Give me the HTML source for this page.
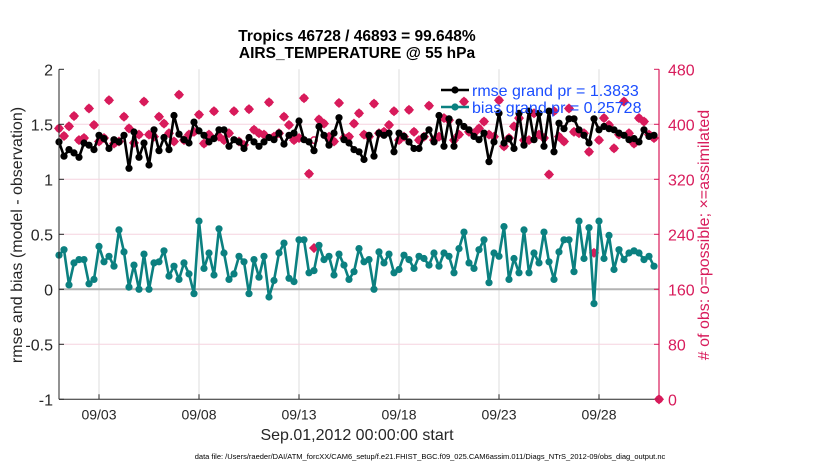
<!DOCTYPE html>
<html><head><meta charset="utf-8"><style>
body{margin:0;background:#fff;}
svg{font-family:"Liberation Sans",sans-serif;}
</style></head><body>
<svg id="chart" width="830" height="470" viewBox="0 0 830 470"></svg>
<script>
const days = [0,5,10,15,20,25,30];
const xTickDays = [2,7,12,17,22,27];
const xTickLabels = ["09/03","09/08","09/13","09/18","09/23","09/28"];
const yTicks = [2,1.5,1,0.5,0,-0.5,-1];
const yTickLabels = ["2","1.5","1","0.5","0","-0.5","-1"];
const rTicks = [480,400,320,240,160,80,0];
const rmse = [1.34,1.21,1.27,1.24,1.20,1.33,1.31,1.27,1.40,1.37,1.28,1.36,1.34,1.40,1.10,1.43,1.20,1.33,1.13,1.45,1.26,1.38,1.27,1.58,1.41,1.36,1.33,1.52,1.44,1.40,
1.34,1.37,1.45,1.45,1.30,1.36,1.34,1.28,1.38,1.34,1.30,1.34,1.38,1.36,1.42,1.32,1.40,1.42,1.53,1.36,1.34,1.26,1.48,1.40,1.31,1.42,1.56,1.36,1.33,1.27,
1.25,1.18,1.40,1.21,1.42,1.40,1.42,1.25,1.42,1.39,1.34,1.28,1.28,1.39,1.45,1.34,1.58,1.30,1.55,1.30,1.52,1.48,1.45,1.39,1.36,1.42,1.16,1.34,1.60,1.33,
1.37,1.28,1.60,1.31,1.62,1.36,1.60,1.30,1.62,1.25,1.51,1.46,1.55,1.55,1.45,1.40,1.33,1.55,1.45,1.48,1.46,1.45,1.42,1.40,1.36,1.37,1.34,1.45,1.39,1.40];
const bias = [0.31,0.36,0.04,0.24,0.27,0.27,0.05,0.09,0.39,0.25,0.30,0.21,0.54,0.34,0.02,0.22,0.00,0.32,0.00,0.24,0.25,0.35,0.12,0.21,0.09,0.24,0.14,-0.04,0.62,0.19,
0.33,0.13,0.55,0.33,0.09,0.14,0.30,0.25,-0.04,0.27,0.11,0.30,-0.07,0.08,0.33,0.42,0.10,0.07,0.45,0.45,0.15,0.17,0.40,0.27,0.30,0.13,0.32,0.22,0.09,0.16,
0.37,0.25,0.27,0.00,0.34,0.24,0.32,0.15,0.18,0.31,0.27,0.19,0.30,0.28,0.22,0.33,0.21,0.33,0.30,0.15,0.37,0.52,0.24,0.19,0.36,0.45,0.06,0.33,0.30,0.57,
0.09,0.28,0.15,0.54,0.15,0.33,0.24,0.52,0.25,0.09,0.34,0.45,0.45,0.16,0.62,0.28,0.56,-0.13,0.62,0.28,0.49,0.18,0.36,0.27,0.33,0.35,0.33,0.27,0.30,0.21];
const nPossible = [394,383,397,412,377,380,423,399,375,380,435,372,375,411,394,373,385,433,385,382,411,401,387,375,443,377,385,389,414,372,
385,419,382,377,387,419,375,370,422,392,387,385,432,382,387,411,399,377,380,438,328,377,407,401,382,375,431,380,382,401,
416,385,382,430,387,389,399,419,377,382,421,389,377,382,427,377,382,409,406,377,385,433,389,387,394,404,385,382,435,368,
380,397,409,377,377,416,385,380,327,419,382,375,423,389,387,387,360,213,377,409,399,365,385,433,387,372,409,404,385,380,0];
const nUsed = [394,383,397,412,377,380,423,399,375,380,435,372,375,411,394,373,385,433,385,382,411,401,387,375,443,377,385,389,414,372,
385,419,382,377,387,419,375,370,422,392,387,385,432,382,387,411,399,377,380,438,328,220,407,401,382,375,431,380,382,401,
416,385,382,430,387,389,399,419,377,382,421,389,377,382,427,377,382,409,406,377,385,433,389,387,394,404,385,382,435,368,
380,397,409,377,377,416,385,380,327,419,382,375,423,389,387,387,360,213,377,409,399,365,385,433,387,372,409,404,385,380,0];

const X0=59, X1=659, YT=69.3, YB=399.3;
const xs = d => X0 + (d/30)*(X1-X0);
const yl = v => YB - (v+1)/3*(YB-YT);
const yr = v => YB - v/480*(YB-YT);
const tOf = i => i*0.25;
const NS="http://www.w3.org/2000/svg";
const svg=document.getElementById('chart');
function el(tag,attrs,parent){const e=document.createElementNS(NS,tag);for(const k in attrs)e.setAttribute(k,attrs[k]);(parent||svg).appendChild(e);return e;}
const PINK="#d81b5b", TEAL="#0b8080";

const grid=el('g',{});


xTickDays.forEach(d=>el('line',{x1:xs(d),x2:xs(d),y1:YT,y2:YB,stroke:'#dcdcdc','stroke-width':1},grid));
rTicks.forEach(v=>{ if(v>0&&v<480&&v!==160) el('line',{x1:X0,x2:X1,y1:yr(v),y2:yr(v),stroke:'#f6d3df','stroke-width':1},grid);});
const zl=el('line',{x1:X0,x2:X1,y1:yl(0),y2:yl(0),stroke:'#b3b3b3','stroke-width':2});



const obsG=el('g',{});


nPossible.forEach((v,i)=>{const x=xs(tOf(i)),y=yr(v);
  const c=el('circle',{cx:x,cy:y,r:3.2,fill:'none',stroke:PINK,'stroke-width':1.5},obsG);
  
  });
nUsed.forEach((v,i)=>{const x=xs(tOf(i)),y=yr(v);
  const p=el('path',{d:`M${x},${y-4.5}L${x+4.5},${y}L${x},${y+4.5}L${x-4.5},${y}Z`,fill:PINK,stroke:PINK,'stroke-width':0.8},obsG);
  
  });

function series(arr,color,name){
  const g=el('g',{});
  
  
  el('polyline',{points:arr.map((v,i)=>xs(tOf(i))+','+yl(v)).join(' '),fill:'none',stroke:color,'stroke-width':2.6,'stroke-linejoin':'round'},g);
  arr.forEach((v,i)=>{const c=el('circle',{cx:xs(tOf(i)),cy:yl(v),r:3.6,fill:color},g);
    
    });
}
series(rmse,'#000','rmse-series');
series(bias,TEAL,'bias-series');

const ax=el('g',{});


el('line',{x1:X0,x2:X0,y1:YT,y2:YB,stroke:'#262626','stroke-width':1},ax);
el('line',{x1:X0,x2:X1,y1:YB,y2:YB,stroke:'#262626','stroke-width':1},ax);
el('line',{x1:X1,x2:X1,y1:YT,y2:YB,stroke:PINK,'stroke-width':1.2},ax);
xTickDays.forEach((d,i)=>{el('line',{x1:xs(d),x2:xs(d),y1:YB,y2:YB-5,stroke:'#262626'},ax);
  const t=el('text',{x:xs(d),y:YB+20,'text-anchor':'middle','font-size':14,fill:'#262626'},ax);t.textContent=xTickLabels[i];
  
  });
yTicks.forEach((v,i)=>{el('line',{x1:X0,x2:X0+5,y1:yl(v),y2:yl(v),stroke:'#262626'},ax);
  const t=el('text',{x:X0-6,y:yl(v)+6,'text-anchor':'end','font-size':16,fill:'#262626'},ax);t.textContent=yTickLabels[i];
  
  });
rTicks.forEach(v=>{el('line',{x1:X1,x2:X1-5,y1:yr(v),y2:yr(v),stroke:PINK},ax);
  const t=el('text',{x:X1+9,y:yr(v)+6,'font-size':16,fill:PINK},ax);t.textContent=String(v);
  
  });

const lg=el('g',{});


[[ '#000','rmse grand pr = 1.3833',90],[TEAL,'bias grand pr = 0.25728',107]].forEach(([c,txt,y])=>{
  el('line',{x1:441,x2:469,y1:y,y2:y,stroke:c,'stroke-width':2.6},lg);
  el('circle',{cx:455,cy:y,r:3.6,fill:c},lg);
  const t=el('text',{x:472,y:y+6,'font-size':16,fill:'#1a4dff'},lg);t.textContent=txt;
  
  
});
</script>
<div style="position:absolute;left:0;top:0;width:830px;height:470px;pointer-events:none;font-family:'Liberation Sans',sans-serif;">
<div style="position:absolute;left:157px;width:400px;top:28px;text-align:center;font-weight:bold;font-size:15.5px;line-height:17px;color:#000;">Tropics 46728 / 46893 = 99.648%<br>AIRS_TEMPERATURE @ 55 hPa</div>
<div style="position:absolute;left:157px;width:400px;top:427px;text-align:center;font-size:16px;color:#262626;">Sep.01,2012 00:00:00 start</div>
<div style="position:absolute;left:-142px;top:226px;width:320px;text-align:center;font-size:16px;color:#262626;transform:rotate(-90deg);">rmse and bias (model - observation)</div>
<div style="position:absolute;left:555px;top:226px;width:300px;text-align:center;font-size:16px;color:#d81b5b;transform:rotate(-90deg);"># of obs: o=possible; ×=assimilated</div>
<div style="position:absolute;left:0;width:830px;top:452px;text-align:center;font-size:7.5px;color:#000;padding-left:30px;box-sizing:border-box;">data file: /Users/raeder/DAI/ATM_forcXX/CAM6_setup/f.e21.FHIST_BGC.f09_025.CAM6assim.011/Diags_NTrS_2012-09/obs_diag_output.nc</div>
</div>
</body></html>
